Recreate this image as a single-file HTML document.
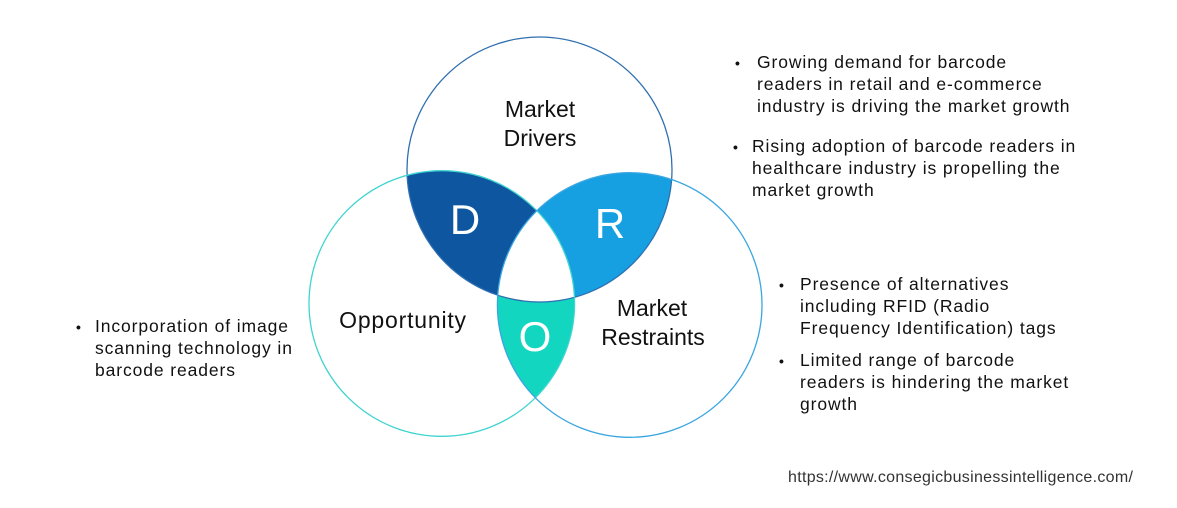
<!DOCTYPE html>
<html><head><style>
body{margin:0;width:1177px;height:508px;background:#fff;overflow:hidden;position:relative;font-family:"Liberation Sans",sans-serif;color:#111}
.t{position:absolute;font-size:17.5px;line-height:22px;letter-spacing:0.9px;white-space:nowrap}
.b{position:absolute;font-size:14px;font-weight:bold}
</style></head><body>
<svg width="1177" height="508" style="position:absolute;left:0;top:0">
<defs>
<clipPath id="ct"><circle cx="539.5" cy="169.5" r="132.5"/></clipPath>
<clipPath id="cl"><circle cx="441.8" cy="303.5" r="132.8"/></clipPath>
<clipPath id="cr"><circle cx="629.7" cy="305" r="132.3"/></clipPath>
</defs>
<g clip-path="url(#ct)"><circle cx="441.8" cy="303.5" r="132.8" fill="#0e56a0"/></g>
<g clip-path="url(#ct)"><circle cx="629.7" cy="305" r="132.3" fill="#16a0e2"/></g>
<g clip-path="url(#cl)"><circle cx="629.7" cy="305" r="132.3" fill="#13d6c0"/></g>
<g clip-path="url(#ct)"><g clip-path="url(#cl)"><circle cx="629.7" cy="305" r="132.3" fill="#fff"/></g></g>
<circle cx="539.5" cy="169.5" r="132.5" fill="none" stroke="#2f6fb0" stroke-width="1.3"/>
<circle cx="441.8" cy="303.5" r="132.8" fill="none" stroke="#40d4d0" stroke-width="1.3"/>
<circle cx="629.7" cy="305" r="132.3" fill="none" stroke="#3aa6e0" stroke-width="1.3"/>
<g font-family="Liberation Sans, sans-serif" font-size="23" fill="#111" text-anchor="middle">
<text x="540" y="117">Market</text><text x="540" y="146">Drivers</text>
<text x="403" y="328" letter-spacing="0.8">Opportunity</text>
<text x="652" y="316">Market</text><text x="653" y="345">Restraints</text>
</g>
<g font-family="Liberation Sans, sans-serif" font-size="42" fill="#fff" text-anchor="middle">
<text x="465" y="234">D</text><text x="610" y="238">R</text><text x="535" y="351">O</text>
</g>
</svg>
<div class="b" style="left:735px;top:55px">•</div>
<div class="t" style="left:757px;top:51px">Growing demand for barcode<br>readers in retail and e-commerce<br>industry is driving the market growth</div>
<div class="b" style="left:733px;top:139px">•</div>
<div class="t" style="left:752px;top:135px">Rising adoption of barcode readers in<br>healthcare industry is propelling the<br>market growth</div>
<div class="b" style="left:779px;top:277px">•</div>
<div class="t" style="left:800px;top:273px">Presence of alternatives<br>including RFID (Radio<br>Frequency Identification) tags</div>
<div class="b" style="left:779px;top:353px">•</div>
<div class="t" style="left:800px;top:349px">Limited range of barcode<br>readers is hindering the market<br>growth</div>
<div class="b" style="left:76px;top:319px">•</div>
<div class="t" style="left:95px;top:315px">Incorporation of image<br>scanning technology in<br>barcode readers</div>
<div class="t" style="left:788px;top:467px;font-size:16px;letter-spacing:0.3px;color:#333">https://www.consegicbusinessintelligence.com/</div>
</body></html>
